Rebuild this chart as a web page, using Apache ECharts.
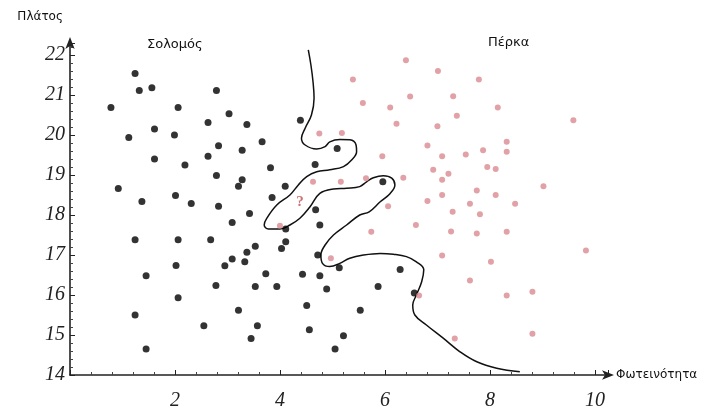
<!DOCTYPE html>
<html>
<head>
<meta charset="utf-8">
<script src="https://cdn.jsdelivr.net/npm/echarts@6/dist/echarts.min.js"></script>
<style>
html,body{margin:0;padding:0;background:#fff;}
#chart{width:704px;height:412px;}
</style>
</head>
<body>
<div id="chart"></div>
<script>
// Σολομός (black points): [Φωτεινότητα, Πλάτος]
const salmon = [
  [1.24,21.54],[1.32,21.11],[1.56,21.18],[2.79,21.11],[0.78,20.69],[2.06,20.69],[3.03,20.53],
  [2.63,20.31],[3.37,20.26],[1.12,19.94],[1.61,20.15],[1.99,20.0],[2.83,19.73],[3.28,19.62],
  [2.63,19.47],[1.61,19.4],[2.19,19.25],[2.79,18.99],[3.28,18.88],[3.21,18.72],[0.92,18.66],
  [2.01,18.49],[1.37,18.34],[2.31,18.29],[2.83,18.22],[3.42,18.04],[3.09,17.81],[1.24,17.38],
  [2.06,17.38],[2.68,17.38],[3.53,17.22],[3.37,17.07],[3.33,16.83],[3.09,16.9],[2.95,16.73],
  [2.02,16.74],[1.45,16.48],[2.78,16.24],[3.53,16.21],[2.06,15.93],[1.24,15.5],[3.21,15.62],
  [2.55,15.23],[3.57,15.23],[3.45,14.91],[1.45,14.65],[4.39,20.37],[3.66,19.83],[5.09,19.66],
  [4.67,19.26],[3.82,19.18],[4.10,18.72],[3.85,18.44],[5.96,18.83],[4.68,18.13],[4.76,17.75],
  [4.11,17.65],[4.11,17.33],[4.03,17.16],[4.72,17.0],[5.13,16.68],[6.29,16.64],[3.73,16.53],
  [4.43,16.52],[4.76,16.48],[3.94,16.21],[4.89,16.15],[5.87,16.21],[6.56,16.05],[4.51,15.74],
  [5.53,15.62],[4.56,15.13],[5.21,14.98],[5.05,14.65]
];
// Πέρκα (pink points)
const perch = [
  [6.40,21.87],[7.01,21.6],[7.79,21.39],[5.39,21.39],[6.48,20.96],[7.30,20.97],[5.58,20.8],
  [6.10,20.69],[8.15,20.69],[7.37,20.48],[9.59,20.37],[6.22,20.28],[7.00,20.22],[4.75,20.04],
  [5.18,20.05],[6.81,19.74],[8.32,19.83],[5.95,19.47],[7.09,19.47],[7.54,19.51],[7.87,19.62],
  [8.32,19.58],[6.92,19.13],[7.21,19.03],[7.95,19.2],[8.11,19.15],[4.63,18.83],[5.16,18.83],
  [5.64,18.92],[6.35,18.93],[7.09,18.88],[9.02,18.72],[7.09,18.5],[7.75,18.61],[8.11,18.5],
  [6.81,18.35],[7.62,18.28],[8.48,18.28],[6.06,18.22],[7.29,18.08],[7.81,18.02],[4.00,17.73],
  [5.74,17.58],[6.59,17.75],[7.26,17.59],[7.75,17.54],[8.32,17.58],[7.09,16.99],[8.02,16.83],
  [9.83,17.11],[4.97,16.92],[7.62,16.36],[8.32,15.99],[8.81,16.08],[6.65,15.99],[7.33,14.91],
  [8.81,15.03]
];
// unknown fish marked with "?"
const unknownFish = [[4.38,18.33]];
// decision boundary
const boundary = [
  [4.54,22.13],[4.59,21.75],[4.63,21.33],[4.65,20.92],[4.60,20.5],[4.48,20.17],[4.41,19.92],
  [4.48,19.75],[4.70,19.65],[4.86,19.71],[4.95,19.83],[5.14,19.89],[5.33,19.88],[5.45,19.75],
  [5.46,19.58],[5.37,19.38],[5.21,19.21],[4.95,19.13],[4.70,19.08],[4.51,18.96],[4.35,18.75],
  [4.19,18.5],[3.94,18.25],[3.75,17.92],[3.70,17.75],[3.78,17.65],[4.00,17.65],[4.19,17.75],
  [4.38,17.92],[4.57,18.2],[4.76,18.54],[5.02,18.65],[5.27,18.67],[5.52,18.71],[5.65,18.83],
  [5.78,18.93],[5.97,18.98],[6.13,18.92],[6.19,18.75],[6.10,18.54],[5.91,18.33],[5.70,18.08],
  [5.52,18.0],[5.27,17.75],[5.02,17.5],[4.86,17.25],[4.78,17.0],[4.81,16.79],[4.95,16.71],
  [5.14,16.79],[5.33,16.92],[5.59,17.0],[5.91,17.04],[6.16,17.02],[6.41,16.96],[6.60,16.83],
  [6.74,16.63],[6.70,16.33],[6.60,16.0],[6.53,15.75],[6.57,15.5],[6.79,15.25],[7.11,14.92],
  [7.43,14.58],[7.75,14.33],[8.13,14.17],[8.57,14.08]
];
const xTicks = [2,4,6,8,10];
const yTicks = [14,15,16,17,18,19,20,21,22];

const chart = echarts.init(document.getElementById('chart'));
const tickFont = {fontFamily:'Liberation Serif', fontStyle:'italic', fontSize:20, color:'#222'};
chart.setOption({
  backgroundColor:'#fff',
  animation:false,
  grid:{left:70, right:96, top:43, bottom:37},
  xAxis:{
    type:'value', min:0, max:10.25, interval:2,
    name:'Φωτεινότητα', nameLocation:'end', nameGap:8,
    nameTextStyle:{fontFamily:'DejaVu Sans', fontSize:12, color:'#111', verticalAlign:'middle', padding:[0,0,2,0]},
    axisLine:{show:true, onZero:false, lineStyle:{color:'#222', width:1.6}, symbol:['none','arrow'], symbolSize:[7,12], symbolOffset:[0,6]},
    axisTick:{show:true, inside:true, length:5, lineStyle:{color:'#222'}},
    minorTick:{show:true, splitNumber:5, length:3, lineStyle:{color:'#444'}},
    splitLine:{show:false},
    axisLabel:Object.assign({margin:16, formatter:v => xTicks.includes(v) ? String(v) : ''}, tickFont)
  },
  yAxis:{
    type:'value', min:14, max:22.3, interval:1,
    name:'Πλάτος', nameLocation:'end', nameGap:20,
    nameTextStyle:{fontFamily:'DejaVu Sans', fontSize:12, color:'#111', align:'right', padding:[0,7,0,0]},
    axisLine:{show:true, onZero:false, lineStyle:{color:'#222', width:1.6}, symbol:['none','arrow'], symbolSize:[7,12], symbolOffset:[0,6]},
    axisTick:{show:true, inside:true, length:5, lineStyle:{color:'#222'}},
    minorTick:{show:true, splitNumber:5, length:3, lineStyle:{color:'#444'}},
    splitLine:{show:false},
    axisLabel:Object.assign({margin:5, formatter:v => yTicks.includes(v) ? String(v) : ''}, tickFont)
  },
  graphic:[
    {type:'text', left:147, top:38, style:{text:'Σολομός', font:'13px "DejaVu Sans"', fill:'#111'}},
    {type:'text', left:488, top:36, style:{text:'Πέρκα', font:'13px "DejaVu Sans"', fill:'#111'}}
  ],
  series:[
    {name:'Σολομός', type:'scatter', data:salmon, symbol:'circle', symbolSize:7,
     itemStyle:{color:'#000'}, z:3},
    {name:'Πέρκα', type:'scatter', data:perch, symbol:'circle', symbolSize:6,
     itemStyle:{color:'#d98a90'}, z:3},
    {name:'?', type:'scatter', data:unknownFish, symbolSize:1, itemStyle:{color:'rgba(0,0,0,0)'},
     label:{show:true, position:'inside', formatter:'?', color:'#c0504d', fontFamily:'Liberation Serif', fontWeight:'bold', fontSize:15}, z:4},
    {name:'boundary', type:'line', data:boundary, smooth:0.4, symbol:'none',
     lineStyle:{color:'#111', width:1.5}, z:2}
  ]
});
</script>
</body>
</html>
